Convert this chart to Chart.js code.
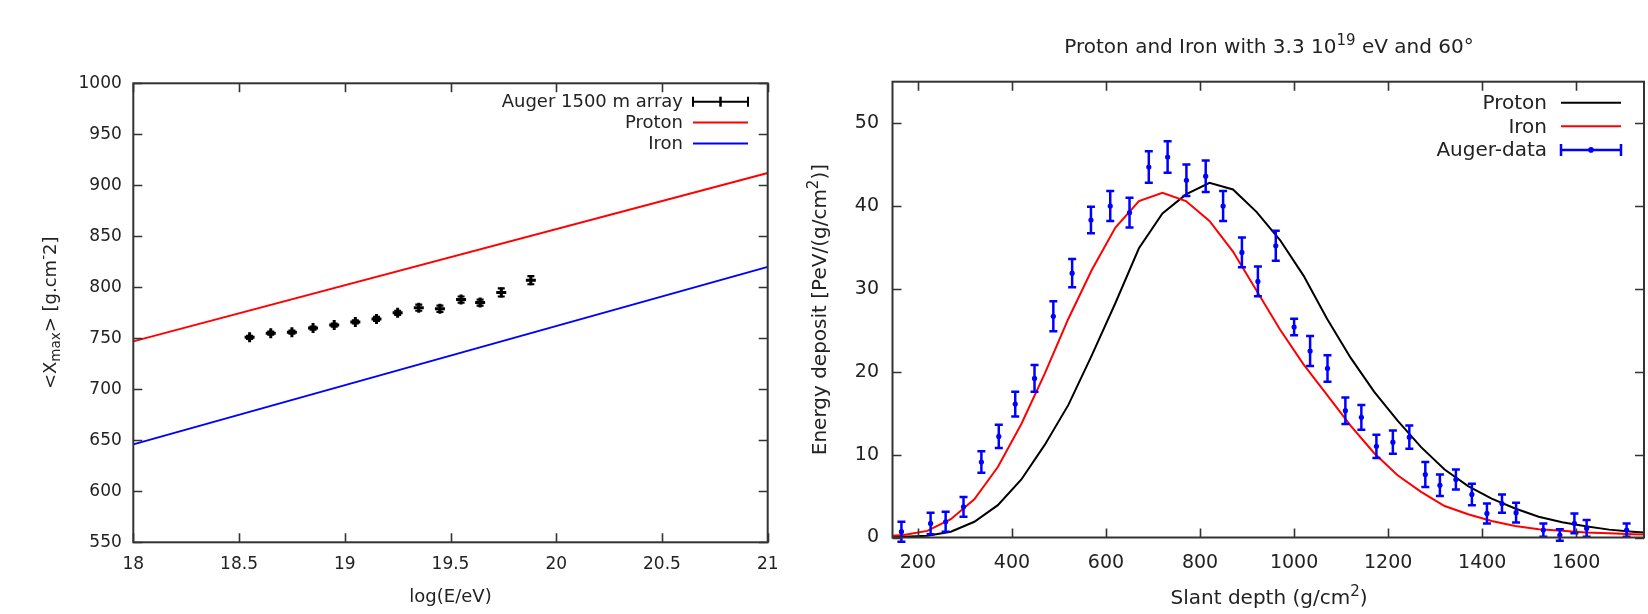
<!DOCTYPE html>
<html>
<head>
<meta charset="utf-8">
<script src="https://cdn.jsdelivr.net/npm/chart.js@4.4.1/dist/chart.umd.min.js"></script>
<style>
html,body{margin:0;padding:0;background:#fff;width:1648px;height:614px;overflow:hidden}
canvas{position:absolute;top:0}
#c1{left:0}
#c2{left:800px}
</style>
</head>
<body>
<canvas id="c1" width="800" height="614"></canvas>
<canvas id="c2" width="848" height="614"></canvas>
<script>
// ---------- Left chart data ----------
const leftEnergy   = [18.55, 18.65, 18.75, 18.85, 18.95, 19.05, 19.15, 19.25, 19.35, 19.45, 19.55, 19.64, 19.74, 19.88];
const leftXmax     = [751, 755, 756, 760, 763, 766, 769, 775, 780, 779, 788, 785, 795, 807];
const leftXmaxErr  = [1.5, 1.5, 1.5, 1.5, 1.5, 1.5, 2, 2, 3, 3, 3, 3, 4, 4];
const modelEnergy  = [18, 21];
const protonXmax   = [747, 912];
const ironXmax     = [646, 820];
const leftXTicks   = [18, 18.5, 19, 19.5, 20, 20.5, 21];
const leftYTicks   = [550, 600, 650, 700, 750, 800, 850, 900, 950, 1000];

// ---------- Right chart data ----------
const slantDepth    = [165, 227, 259, 297, 335, 372, 407, 448, 488, 528, 568, 609, 650, 691, 731, 771, 812, 849, 889, 923, 961,
                       1000, 1034, 1071, 1109, 1143, 1175, 1210, 1245, 1279, 1310, 1344, 1378, 1410, 1442, 1472, 1530, 1565, 1596, 1622, 1707];
const augerDeposit  = [0.7, 1.7, 1.9, 3.7, 9.1, 12.2, 16.1, 19.2, 26.7, 31.9, 38.3, 40.0, 39.2, 44.7, 45.9, 43.1, 43.6, 40.0, 34.4, 30.9, 35.2,
                       25.4, 22.5, 20.4, 15.3, 14.5, 11.0, 11.5, 12.1, 7.6, 6.3, 7.0, 5.2, 2.9, 4.1, 3.0, 0.9, 0.3, 1.7, 1.1, 0.9];
const augerErr      = [1.2, 1.3, 1.2, 1.2, 1.3, 1.4, 1.5, 1.6, 1.8, 1.7, 1.6, 1.8, 1.8, 1.9, 1.9, 1.9, 1.9, 1.8, 1.8, 1.8, 1.8,
                       1.0, 1.8, 1.6, 1.6, 1.5, 1.4, 1.4, 1.4, 1.5, 1.3, 1.2, 1.3, 1.2, 1.1, 1.2, 0.8, 0.7, 1.2, 1.0, 0.8];
const modelDepth    = [120, 170, 220, 270, 320, 370, 420, 470, 520, 570, 620, 670, 720, 770, 820, 870, 920, 970, 1020, 1070,
                       1120, 1170, 1220, 1270, 1320, 1370, 1420, 1470, 1520, 1570, 1620, 1670, 1720, 1770];
const protonDeposit = [0.05, 0.1, 0.2, 0.7, 1.9, 3.9, 7.0, 11.2, 16.0, 22.0, 28.3, 34.9, 39.1, 41.4, 42.8, 42.0, 39.3, 35.9, 31.6, 26.4,
                       21.7, 17.6, 14.1, 10.9, 8.2, 6.2, 4.7, 3.5, 2.5, 1.85, 1.35, 0.95, 0.7, 0.5];
const ironDeposit   = [0.1, 0.3, 0.8, 2.2, 4.6, 8.5, 13.7, 19.8, 26.4, 32.3, 37.4, 40.6, 41.6, 40.6, 38.2, 34.5, 29.8, 25.1, 20.9, 17.2,
                       13.5, 10.2, 7.5, 5.5, 3.8, 2.8, 2.0, 1.4, 1.0, 0.8, 0.6, 0.5, 0.4, 0.35];
const rightXTicks   = [200, 400, 600, 800, 1000, 1200, 1400, 1600];
const rightYTicks   = [0, 10, 20, 30, 40, 50];

// ---------- styling ----------
const FAMILY = "'DejaVu Sans', 'Liberation Sans', sans-serif";
const TEXT = '#222';
const FRAME = '#333';
Chart.defaults.font.family = FAMILY;
Chart.defaults.color = TEXT;

const pts = (xs, ys) => xs.map((x, i) => ({x, y: ys[i]}));

function richText(ctx, segs, cx, cy, size, rot) {
  ctx.save();
  ctx.translate(cx, cy);
  if (rot) ctx.rotate(-Math.PI / 2);
  let total = 0;
  const parts = segs.map(s => {
    const fs = s.s ? size * 0.75 : size;
    ctx.font = fs + 'px ' + FAMILY;
    const w = ctx.measureText(s.t).width;
    total += w;
    return {t: s.t, s: s.s, fs, w};
  });
  let x = -total / 2;
  ctx.textAlign = 'left';
  ctx.textBaseline = 'alphabetic';
  ctx.fillStyle = TEXT;
  parts.forEach(p => {
    ctx.font = p.fs + 'px ' + FAMILY;
    const dy = p.s === 'sup' ? -0.42 * size : (p.s === 'sub' ? 0.25 * size : 0);
    ctx.fillText(p.t, x, 0.36 * size + dy);
    x += p.w;
  });
  ctx.restore();
}

const framePlugin = {
  id: 'frameTicks',
  afterDraw(chart, args, o) {
    const {ctx, chartArea: a} = chart;
    const xs = chart.scales.x, ys = chart.scales.y;
    ctx.save();
    ctx.strokeStyle = FRAME;
    ctx.lineWidth = 1.6;
    ctx.beginPath();
    xs.ticks.forEach(t => {
      const px = Math.round(xs.getPixelForValue(t.value)) + 0.5;
      ctx.moveTo(px, a.bottom); ctx.lineTo(px, a.bottom - o.len);
      ctx.moveTo(px, a.top); ctx.lineTo(px, a.top + o.len);
    });
    ys.ticks.forEach(t => {
      const py = Math.round(ys.getPixelForValue(t.value)) + 0.5;
      ctx.moveTo(a.left, py); ctx.lineTo(a.left + o.len, py);
      ctx.moveTo(a.right, py); ctx.lineTo(a.right - o.len, py);
    });
    ctx.stroke();
    ctx.lineWidth = 2;
    ctx.strokeRect(a.left, a.top, a.right - a.left, a.bottom - a.top);
    ctx.restore();
  }
};

const errorPlugin = {
  id: 'errorBars',
  afterDatasetsDraw(chart, args, o) {
    const {ctx} = chart;
    const xs = chart.scales.x, ys = chart.scales.y;
    const ds = chart.data.datasets[o.dataset];
    ctx.save();
    ctx.strokeStyle = o.color;
    ctx.lineWidth = o.width;
    ctx.beginPath();
    ds.data.forEach((p, i) => {
      const px = xs.getPixelForValue(p.x);
      const y1 = ys.getPixelForValue(p.y - o.errors[i]);
      const y2 = ys.getPixelForValue(p.y + o.errors[i]);
      ctx.moveTo(px, y1); ctx.lineTo(px, y2);
      ctx.moveTo(px - o.cap, y1); ctx.lineTo(px + o.cap, y1);
      ctx.moveTo(px - o.cap, y2); ctx.lineTo(px + o.cap, y2);
    });
    ctx.stroke();
    ctx.restore();
  }
};

const textPlugin = {
  id: 'texts',
  afterDraw(chart, args, o) {
    const ctx = chart.ctx;
    o.items.forEach(it => richText(ctx, it.segs, it.x, it.y, it.size, it.rot));
    const lg = o.legend;
    ctx.save();
    lg.rows.forEach((r, i) => {
      const y = lg.y0 + i * lg.dy;
      ctx.font = lg.size + 'px ' + FAMILY;
      ctx.fillStyle = TEXT;
      ctx.textAlign = 'right';
      ctx.textBaseline = 'middle';
      ctx.fillText(r.label, lg.textRight, y + 1);
      ctx.strokeStyle = r.color;
      ctx.lineWidth = r.width;
      ctx.beginPath();
      ctx.moveTo(lg.x1, y); ctx.lineTo(lg.x2, y);
      if (r.err) {
        ctx.moveTo(lg.x1, y - lg.cap); ctx.lineTo(lg.x1, y + lg.cap);
        ctx.moveTo(lg.x2, y - lg.cap); ctx.lineTo(lg.x2, y + lg.cap);
      }
      ctx.stroke();
      const mx = (lg.x1 + lg.x2) / 2;
      if (r.err === 'cross') {
        ctx.lineWidth = 2.5;
        ctx.beginPath();
        ctx.moveTo(mx, y - 5); ctx.lineTo(mx, y + 5);
        ctx.stroke();
      } else if (r.err === 'dot') {
        ctx.fillStyle = r.color;
        ctx.beginPath(); ctx.arc(mx, y, 2.8, 0, Math.PI * 2); ctx.fill();
      }
    });
    ctx.restore();
  }
};

function axis(ticksArr, min, max, font, pad, fitFn) {
  return {
    type: 'linear', min, max,
    afterBuildTicks: s => { s.ticks = ticksArr.map(v => ({value: v})); },
    afterFit: fitFn,
    grid: {display: false, drawTicks: false},
    border: {display: false},
    ticks: {font: {size: font}, color: TEXT, padding: pad, autoSkip: false, maxRotation: 0,
            callback: v => String(v)}
  };
}

// ---------- Left chart ----------
new Chart(document.getElementById('c1'), {
  type: 'scatter',
  data: {
    datasets: [
      {label: 'Auger 1500 m array', data: pts(leftEnergy, leftXmax), pointStyle: 'cross', pointRadius: 5,
       borderColor: '#000', backgroundColor: '#000', pointBorderWidth: 3, showLine: false, order: 0},
      {label: 'Proton', data: pts(modelEnergy, protonXmax), showLine: true, pointRadius: 0,
       borderColor: '#ff0000', borderWidth: 2, order: 1},
      {label: 'Iron', data: pts(modelEnergy, ironXmax), showLine: true, pointRadius: 0,
       borderColor: '#0000ff', borderWidth: 2, order: 2}
    ]
  },
  options: {
    responsive: false, animation: false, devicePixelRatio: 1,
    events: [],
    layout: {padding: {left: 0, top: 83.3, right: 32.3, bottom: 0}},
    scales: {
      x: axis(leftXTicks, 18, 21, 17, 12, s => { s.height = 614 - 542.3; }),
      y: axis(leftYTicks, 550, 1000, 17, 11.5, s => { s.width = 133.3; })
    },
    plugins: {
      legend: {display: false}, tooltip: {enabled: false},
      frameTicks: {len: 9},
      errorBars: {dataset: 0, errors: leftXmaxErr, cap: 3.5, color: '#000', width: 2.2},
      texts: {
        items: [
          {segs: [{t: 'log(E/eV)'}], x: 450.5, y: 595.5, size: 18},
          {segs: [{t: '<X'}, {t: 'max', s: 'sub'}, {t: '> [g.cm'}, {t: '-', s: 'sup'}, {t: '2]'}], x: 49.5, y: 312.8, size: 18, rot: true}
        ],
        legend: {y0: 101.7, dy: 20.9, textRight: 683, x1: 693, x2: 748, cap: 5, size: 18,
          rows: [
            {label: 'Auger 1500 m array', color: '#000', width: 2, err: 'cross'},
            {label: 'Proton', color: '#ff0000', width: 2},
            {label: 'Iron', color: '#0000ff', width: 2}
          ]}
      }
    }
  },
  plugins: [errorPlugin, framePlugin, textPlugin]
});

// ---------- Right chart ----------
new Chart(document.getElementById('c2'), {
  type: 'scatter',
  data: {
    datasets: [
      {label: 'Auger-data', data: pts(slantDepth, augerDeposit), pointStyle: 'circle', pointRadius: 2.6,
       borderColor: '#0000ff', backgroundColor: '#0000ff', pointBorderWidth: 0, showLine: false, order: 0},
      {label: 'Iron', data: pts(modelDepth, ironDeposit), showLine: true, pointRadius: 0,
       borderColor: '#ff0000', borderWidth: 2, order: 1},
      {label: 'Proton', data: pts(modelDepth, protonDeposit), showLine: true, pointRadius: 0,
       borderColor: '#000000', borderWidth: 2, order: 2}
    ]
  },
  options: {
    responsive: false, animation: false, devicePixelRatio: 1,
    events: [],
    layout: {padding: {left: 0, top: 81.7, right: 2, bottom: 0}},
    scales: {
      x: axis(rightXTicks, 146, 1744, 19, 14, s => { s.height = 614 - 537.5; }),
      y: axis(rightYTicks, 0, 55, 19, 13.5, s => { s.width = 92.5; })
    },
    plugins: {
      legend: {display: false}, tooltip: {enabled: false},
      frameTicks: {len: 9},
      errorBars: {dataset: 0, errors: augerErr, cap: 4, color: '#0000ff', width: 2.5},
      texts: {
        items: [
          {segs: [{t: 'Proton and Iron with 3.3 10'}, {t: '19', s: 'sup'}, {t: ' eV and 60°'}], x: 469, y: 46, size: 20},
          {segs: [{t: 'Slant depth (g/cm'}, {t: '2', s: 'sup'}, {t: ')'}], x: 469, y: 597, size: 20},
          {segs: [{t: 'Energy deposit [PeV/(g/cm'}, {t: '2', s: 'sup'}, {t: ')]'}], x: 18.8, y: 309.6, size: 20, rot: true}
        ],
        legend: {y0: 102.7, dy: 23.6, textRight: 747, x1: 761, x2: 821, cap: 6, size: 20,
          rows: [
            {label: 'Proton', color: '#000', width: 2},
            {label: 'Iron', color: '#ff0000', width: 2},
            {label: 'Auger-data', color: '#0000ff', width: 2.5, err: 'dot'}
          ]}
      }
    }
  },
  plugins: [errorPlugin, framePlugin, textPlugin]
});
</script>
</body>
</html>
